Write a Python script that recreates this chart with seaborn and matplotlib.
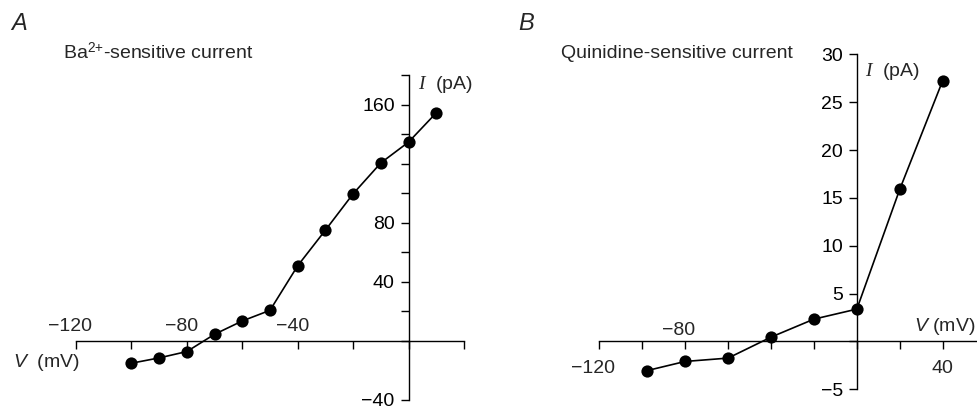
import matplotlib
matplotlib.use("Agg")
import matplotlib.pyplot as plt
import seaborn as sns

# ---------------- data ----------------
# Panel A: Ba2+-sensitive current
a_voltage = [-100, -90, -80, -70, -60, -50, -40, -30, -20, -10, 0, 10]
a_current = [-15.1, -11.5, -7.2, 4.5, 13.5, 20.7, 50.9, 75.0, 99.6, 120.5, 134.6, 154.4]
a_xticks = [-120, -100, -80, -60, -40, -20, 0, 20]
a_xlabels_above = [-120, -80, -40]
a_yticks = [-40, 0, 20, 40, 60, 80, 100, 120, 140, 160, 180]
a_yticklabels = ["\u221240", "", "", "40", "", "80", "", "", "", "160", ""]

# Panel B: Quinidine-sensitive current
b_voltage = [-98, -80, -60, -40, -20, 0, 20, 40]
b_current = [-3.06, -2.09, -1.74, 0.45, 2.33, 3.38, 15.9, 27.25]
b_xticks = [-120, -100, -80, -60, -40, -20, 0, 20, 40, 60]
b_xlabels_above = [-80]
b_xlabels_below = [-120, 40]
b_yticks = [-5, 0, 5, 10, 15, 20, 25, 30]
b_yticklabels = ["\u22125", "", "5", "10", "15", "20", "25", "30"]

# ---------------- style ----------------
sns.set_style("ticks")
plt.rcParams["font.family"] = ["Liberation Sans", "DejaVu Sans"]
plt.rcParams["mathtext.fontset"] = "custom"
plt.rcParams["mathtext.rm"] = "Liberation Sans"
plt.rcParams["mathtext.it"] = "Liberation Serif:italic"
plt.rcParams["mathtext.sf"] = "Liberation Sans:italic"

W, H = 978, 409
fig = plt.figure(figsize=(W / 100, H / 100), dpi=100)
fig.patch.set_facecolor("white")

FS = 14


def fx(px):
    return px / W


def fy(py):
    return 1 - py / H


def make_axes(x0, x1, xmin, xmax, y0, y1, ymin, ymax):
    # x0,x1: pixel positions of xmin,xmax ; y0,y1: pixel positions of ymin,ymax
    ax = fig.add_axes([fx(x0), fy(y0), (x1 - x0) / W, (y0 - y1) / H])
    ax.set_xlim(xmin, xmax)
    ax.set_ylim(ymin, ymax)
    ax.patch.set_alpha(0)
    for s in ["top", "right"]:
        ax.spines[s].set_visible(False)
    ax.spines["left"].set_position(("data", 0))
    ax.spines["bottom"].set_position(("data", 0))
    for s in ["left", "bottom"]:
        ax.spines[s].set_linewidth(1.0)
        ax.spines[s].set_color("black")
    ax.tick_params(direction="out", length=6, width=1.0, color="black",
                   labelsize=FS, labelcolor="black", pad=4)
    ax.tick_params(axis="x", labelbottom=False)
    return ax


def draw(ax, xs, ys):
    sns.lineplot(x=xs, y=ys, ax=ax, color="black", linewidth=1.2,
                 marker="o", markersize=8.8, markeredgewidth=0,
                 markerfacecolor="black", clip_on=False)


def xlabel(ax, v, dx_pt, dy_pt, va):
    ax.annotate(f"{v}".replace("-", "\u2212"), xy=(v, 0), xytext=(dx_pt, dy_pt),
                textcoords="offset points", ha="center", va=va, fontsize=FS)


# ---------------- Panel A ----------------
axA = make_axes(76, 464, -120, 20, 400, 75, -40, 180)
draw(axA, a_voltage, a_current)
axA.set_xticks(a_xticks)
axA.set_yticks(a_yticks)
axA.set_yticklabels(a_yticklabels)
for v in a_xlabels_above:
    xlabel(axA, v, -4, 7.2, "baseline")

fig.text(fx(11), fy(30), "A", fontsize=17, style="italic", ha="left", va="baseline")
fig.text(fx(63), fy(59), r"Ba$^{\mathrm{2{+}}}$-sensitive current", fontsize=FS,
         ha="left", va="baseline")
fig.text(fx(418), fy(89), r"$I$  (pA)", fontsize=FS, ha="left", va="baseline")
fig.text(fx(13), fy(367), r"$\mathsf{V}$  (mV)", fontsize=FS, ha="left", va="baseline")

# ---------------- Panel B ----------------
b_x0 = 599.3
b_step = (942.7 - 599.3) / 8.0
axB = make_axes(b_x0, b_x0 + 9 * b_step, -120, 60, 389.3, 54.3, -5, 30)
draw(axB, b_voltage, b_current)
axB.set_xticks(b_xticks)
axB.set_yticks(b_yticks)
axB.set_yticklabels(b_yticklabels)
for v in b_xlabels_above:
    xlabel(axB, v, -4.5, 4.8, "baseline")
for v in b_xlabels_below:
    xlabel(axB, v, -4.8 if v < 0 else 0, -22.5, "baseline")

fig.text(fx(518), fy(30), "B", fontsize=17, style="italic", ha="left", va="baseline")
fig.text(fx(560.7), fy(58), "Quinidine-sensitive current", fontsize=FS,
         ha="left", va="baseline")
fig.text(fx(865), fy(76), r"$I$  (pA)", fontsize=FS, ha="left", va="baseline")
fig.text(fx(914), fy(331), r"$\mathsf{V}$ (mV)", fontsize=FS, ha="left", va="baseline")

fig.savefig("out.png", dpi=100, facecolor="white")
